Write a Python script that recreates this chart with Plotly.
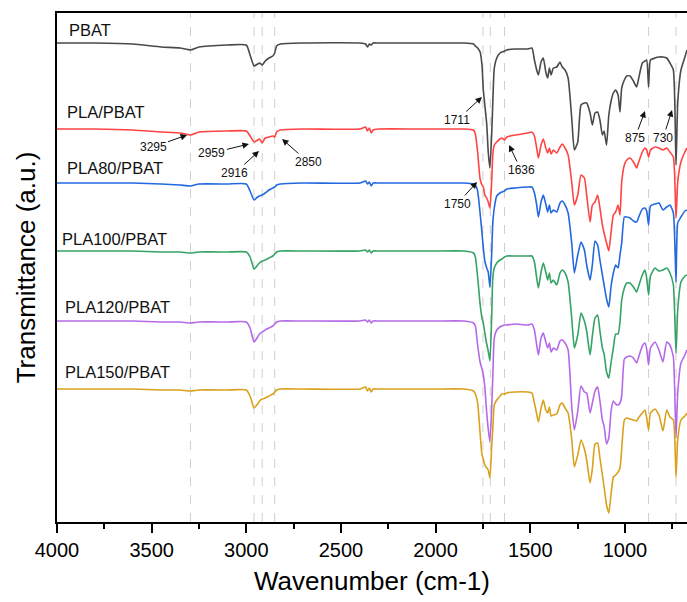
import plotly.graph_objects as go

# Common wavenumber grid (cm-1)
wavenumber = [4000, 3800, 3600, 3450, 3350, 3295, 3250, 3100, 3000, 2980,
              2959, 2940, 2930, 2916, 2900, 2880, 2860, 2850, 2840, 2820,
              2700, 2400, 2370, 2360, 2350, 2340, 2330, 2300, 2100, 2000,
              1850, 1800, 1790, 1778, 1765, 1755, 1748, 1740, 1730, 1722,
              1713, 1704, 1698, 1690, 1677, 1660, 1650, 1636, 1624, 1581,
              1512, 1491, 1478, 1466, 1457, 1443, 1431, 1418, 1408, 1399,
              1390, 1378, 1360, 1343, 1331, 1316, 1300, 1281, 1267, 1249,
              1232, 1214, 1202, 1184, 1172, 1158, 1144, 1132, 1119, 1110,
              1097, 1085, 1073, 1061, 1049, 1036, 1026, 1017, 1003, 990,
              973, 955, 938, 929, 908, 894, 885, 875, 865, 841,
              820, 799, 779, 762, 744, 730, 721, 704, 683, 672]

# Series names, stacking baselines and absorption depths (a.u.)
series_names = ["PBAT", "PLA/PBAT", "PLA80/PBAT", "PLA100/PBAT", "PLA120/PBAT", "PLA150/PBAT"]
baselines = [479, 393, 339, 271, 201, 133]

depth_pbat = [0, 0, 1, 4, 5, 7, 4, 2, 2, 12,
              23, 21, 20, 22, 18, 15, 13, 10, 3, 1,
              0, 0, 1, 4, 1, 2, 0, 0, 0, 0,
              0, 1, 3, 5, 9, 22, 47, 62, 81, 109,
              125, 92, 60, 25, 15, 10, 9, 8, 7, 6,
              6, 5, 17, 27, 32, 19, 15, 29, 35, 25,
              32, 25, 24, 19, 24, 27, 35, 75, 107, 99,
              62, 60, 60, 70, 82, 70, 69, 77, 92, 88,
              102, 72, 58, 50, 47, 52, 69, 45, 37, 33,
              33, 38, 44, 37, 20, 18, 17, 44, 17, 15,
              14, 14, 15, 20, 27, 122, 60, 27, 14, 7]

depth_pla_pbat = [0, 0, 1, 3, 4, 6, 3, 2, 2, 7,
                  13, 11, 10, 14, 9, 8, 7, 8, 3, 1,
                  0, 0, -2, 2, -1, 4, 1, 0, 0, 0,
                  0, 1, 5, 23, 50, 56, 58, 66, 69, 73,
                  79, 53, 26, 16, 13, 10, 9, 11, 8, 6,
                  4, 3, 7, 19, 29, 16, 10, 19, 24, 19,
                  25, 21, 24, 18, 15, 19, 26, 53, 76, 66,
                  46, 49, 66, 93, 76, 73, 66, 79, 96, 104,
                  114, 122, 103, 86, 83, 76, 86, 53, 36, 31,
                  29, 33, 39, 34, 23, 19, 21, 28, 21, 18,
                  19, 21, 19, 23, 28, 89, 53, 33, 23, 19]

depth_pla80 = [0, 0, 0, 1, 2, 3, 1, 1, 1, 8,
               17, 14, 13, 12, 10, 7, 5, 4, 2, 1,
               0, 0, -2, 1, -1, 3, 0, 0, 0, 0,
               0, 1, 2, 8, 30, 50, 65, 78, 85, 89,
               104, 72, 40, 25, 13, 10, 9, 8, 6, 5,
               4, 4, 10, 22, 34, 19, 12, 21, 29, 22,
               30, 27, 29, 20, 18, 22, 30, 60, 90, 72,
               59, 67, 82, 97, 82, 58, 62, 77, 92, 102,
               116, 124, 103, 90, 82, 85, 72, 60, 34, 34,
               35, 38, 39, 35, 26, 25, 28, 42, 23, 21,
               20, 27, 24, 22, 30, 99, 40, 34, 28, 27]

depth_pla100 = [0, 0, 0, 1, 1, 2, 1, 1, 1, 6,
                18, 14, 12, 10, 9, 7, 5, 3, 1, 0,
                0, 0, -1, 1, -1, 2, 0, 0, 0, 0,
                0, 2, 6, 26, 53, 67, 72, 82, 93, 100,
                110, 67, 27, 17, 12, 9, 8, 6, 5, 5,
                5, 5, 11, 27, 37, 21, 12, 21, 29, 22,
                32, 29, 34, 22, 19, 22, 31, 67, 97, 84,
                62, 70, 80, 104, 85, 67, 64, 80, 97, 103,
                121, 127, 111, 97, 83, 83, 71, 49, 37, 32,
                32, 36, 41, 36, 24, 19, 27, 44, 25, 17,
                20, 19, 17, 22, 34, 102, 59, 31, 25, 24]

depth_pla120 = [0, 0, 0, 1, 1, 2, 1, 1, 1, 7,
                21, 16, 13, 11, 9, 7, 5, 3, 1, 0,
                0, 0, -1, 1, -1, 2, 0, 0, 0, 0,
                0, 2, 5, 24, 41, 48, 54, 66, 92, 108,
                121, 89, 56, 17, 9, 6, 5, 4, 4, 3,
                4, 3, 9, 24, 34, 17, 12, 21, 27, 22,
                31, 27, 29, 20, 19, 22, 29, 85, 109, 90,
                65, 71, 72, 92, 82, 70, 66, 80, 99, 105,
                123, 117, 90, 80, 83, 84, 82, 75, 38, 36,
                35, 37, 42, 37, 25, 22, 28, 44, 27, 21,
                29, 41, 21, 24, 36, 117, 72, 42, 34, 29]

depth_pla150 = [0, 0, 0, 1, 1, 2, 1, 1, 1, 7,
                19, 15, 12, 10, 9, 7, 5, 3, 1, 0,
                0, 0, -2, 2, -1, 3, 0, 0, 0, 0,
                0, 2, 5, 14, 44, 66, 70, 76, 79, 81,
                89, 58, 40, 16, 11, 7, 5, 5, 4, 3,
                3, 4, 14, 25, 33, 19, 11, 21, 24, 18,
                27, 26, 25, 16, 14, 19, 24, 50, 78, 66,
                51, 60, 71, 94, 80, 55, 54, 69, 86, 98,
                116, 124, 105, 88, 86, 83, 79, 60, 31, 29,
                30, 31, 32, 29, 24, 21, 29, 41, 24, 20,
                26, 42, 21, 28, 31, 88, 51, 31, 27, 24]

depths = [depth_pbat, depth_pla_pbat, depth_pla80, depth_pla100, depth_pla120, depth_pla150]
colors = ["#4a4a4a", "#ff4444", "#2468e0", "#35a266", "#b46ae8", "#d9a11c"]

# Series label positions (wavenumber, a.u.)
label_x = [3947, 3958, 3958, 3984, 3968, 3968]
label_y = [492, 410, 354, 283, 215, 150]

# Marked bands (dashed guide lines)
marked_bands = [3295, 2959, 2916, 2850, 1750, 1711, 1636, 875, 730]

# Peak annotations: text, arrow-head position, text offset (px)
peak_text = ["3295", "2959", "2916", "2850", "1711", "1636", "875", "730", "1750"]
peak_x = [3313, 2986, 2933, 2811, 1755, 1612, 894, 751, 1781]
peak_y = [387, 378, 371, 383, 425, 377, 411, 412, 340]
peak_ax = [-34, -37, -24, 26, -25, 12, -10, -9, -20]
peak_ay = [12, 9, 22, 23, 23, 25, 27, 28, 22]

FONT = "Arial, Liberation Sans, sans-serif"

fig = go.Figure()

for wb in marked_bands:
    fig.add_shape(type="line", xref="x", yref="paper", x0=wb, x1=wb, y0=0, y1=1,
                  line=dict(color="#cfcfcf", width=1, dash="dash"), layer="below")

for name, base, dep, col in zip(series_names, baselines, depths, colors):
    fig.add_trace(go.Scatter(
        x=wavenumber, y=[base - d for d in dep], mode="lines", name=name,
        line=dict(color=col, width=1.6, shape="spline", smoothing=0.5), showlegend=False))

annotations = []
for name, lx, ly in zip(series_names, label_x, label_y):
    annotations.append(dict(x=lx, y=ly, xref="x", yref="y", text=name, showarrow=False,
                            xanchor="left", yanchor="middle",
                            font=dict(family=FONT, size=16.5, color="#111")))
for t, px, py, ax, ay in zip(peak_text, peak_x, peak_y, peak_ax, peak_ay):
    annotations.append(dict(x=px, y=py, xref="x", yref="y", text=t, showarrow=True,
                            ax=ax, ay=ay, arrowhead=2, arrowsize=1.3, arrowwidth=1,
                            arrowcolor="#111", standoff=0,
                            font=dict(family=FONT, size=12, color="#111")))

fig.update_layout(
    width=687, height=602,
    margin=dict(l=57, r=0, t=13, b=80),
    paper_bgcolor="white", plot_bgcolor="white",
    font=dict(family=FONT, color="black"),
    annotations=annotations,
    xaxis=dict(
        range=[4000, 672], showgrid=False, zeroline=False,
        showline=True, linecolor="black", linewidth=2, mirror=True,
        ticks="outside", ticklen=9, tickwidth=1.5, tickcolor="black",
        tick0=0, dtick=500, tickfont=dict(family=FONT, size=20, color="black"),
        minor=dict(ticks="outside", ticklen=5, tickwidth=1.5, tickcolor="black", dtick=250, tick0=0, showgrid=False),
        title=dict(text="Wavenumber (cm-1)", font=dict(family=FONT, size=26, color="black"), standoff=12),
    ),
    yaxis=dict(
        range=[0, 509], showgrid=False, zeroline=False,
        showline=True, linecolor="black", linewidth=2, mirror=False,
        ticks="", showticklabels=False,
        title=dict(text="Transmittance (a.u.)", font=dict(family=FONT, size=26, color="black"), standoff=12),
    ),
)

fig.write_html("out.html")
